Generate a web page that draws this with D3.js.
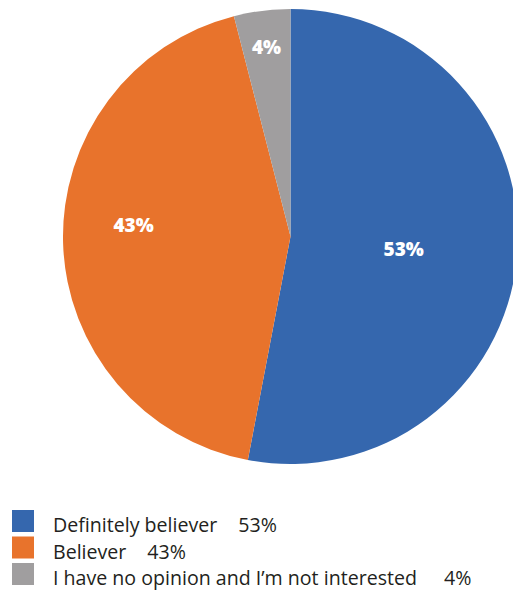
<!DOCTYPE html>
<html>
<head>
<meta charset="utf-8">
<script src="https://cdn.jsdelivr.net/npm/d3@7"></script>
<style>
  body { margin: 0; background: #fff; }
  svg { display: block; }
</style>
</head>
<body>
<div id="chart"></div>
<script>
const categories = ['Definitely believer', 'Believer', 'I have no opinion and I\u2019m not interested']
const values = [53, 43, 4]
const labels = ['53%', '43%', '4%']

const blue = '#3567ae', orange = '#e8732c', gray = '#a09e9f'
const colors = [blue, orange, gray]

const width = 513, height = 592
const cx = 290.5, cy = 236.5, radius = 227.5

const svg = d3.select('#chart').append('svg')
    .attr('width', width)
    .attr('height', height)

const pie = d3.pie().sort(null).value(d => d.value)
const arc = d3.arc().innerRadius(0).outerRadius(radius)

const data = categories.map((c, i) => ({ name: c, value: values[i], label: labels[i] }))
const arcs = pie(data)

const g = svg.append('g').attr('transform', `translate(${cx},${cy})`)

g.selectAll('path.slice')
    .data(arcs)
    .enter()
    .append('path')
    .attr('class', 'slice')
    .attr('d', arc)
    .style('fill', (d, i) => colors[i])

// label placement (fraction of radius, extra vertical nudge)
const labelPos = [[0.5, 2], [0.69, -16], [0.84, 0]]
g.selectAll('text.pct')
    .data(arcs)
    .enter()
    .append('text')
    .attr('class', 'pct')
    .attr('transform', (d, i) => {
        const r = radius * labelPos[i][0]
        const [x, y] = d3.arc().innerRadius(r).outerRadius(r).centroid(d)
        return `translate(${x},${y + labelPos[i][1]})`
    })
    .attr('text-anchor', 'middle')
    .attr('dy', '0.35em')
    .style('font-family', '"Open Sans", sans-serif')
    .style('font-weight', '800')
    .style('font-size', '19px')
    .style('fill', '#fff')
    .text(d => d.data.label)

// legend
const legend = svg.append('g').attr('transform', 'translate(12,510)')
const row = legend.selectAll('g.item')
    .data(data)
    .enter()
    .append('g')
    .attr('class', 'item')
    .attr('transform', (d, i) => `translate(0,${i * 26.5})`)

row.append('rect')
    .attr('width', 22)
    .attr('height', 22)
    .style('fill', (d, i) => colors[i])

const txt = row.append('text')
    .attr('x', 41)
    .attr('y', 22)
    .style('font-family', '"Open Sans", sans-serif')
    .style('font-size', '19.6px')
    .style('fill', '#231f20')
txt.append('tspan').text(d => d.name)
txt.append('tspan').attr('dx', (d, i) => i === 2 ? 27 : 21).text(d => d.label)
</script>
</body>
</html>
